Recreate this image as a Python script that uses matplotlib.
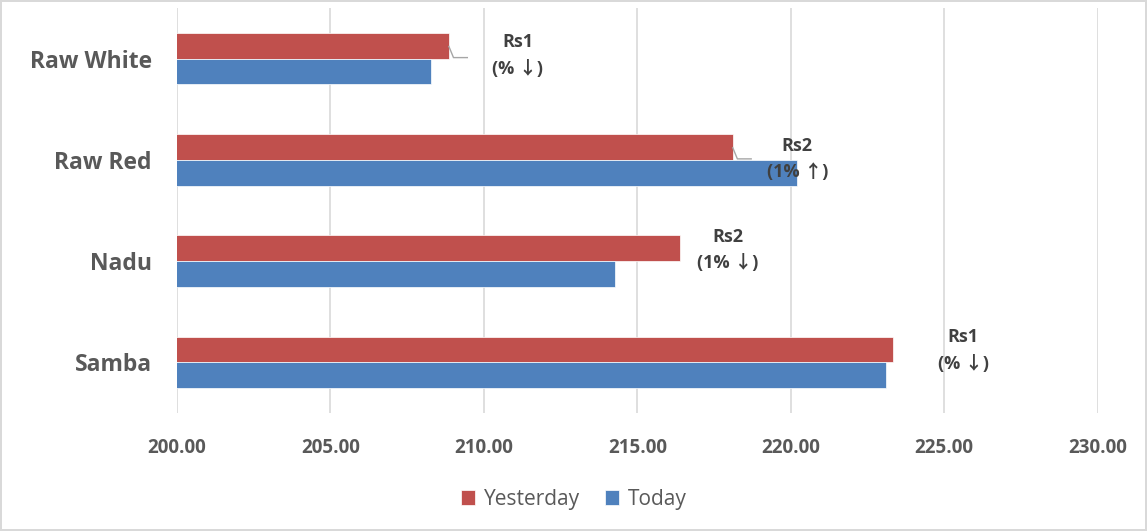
import matplotlib.pyplot as plt
import numpy as np

plt.rcParams['font.family'] = ['Open Sans', 'DejaVu Sans']

categories = ['Samba', 'Nadu', 'Raw Red', 'Raw White']
yesterday = [223.32, 216.38, 218.11, 208.86]
today = [223.09, 214.27, 220.20, 208.27]
labels = ['Rs1\n(% \u2193)', 'Rs2\n(1% \u2193)', 'Rs2\n(1% \u2191)', 'Rs1\n(% \u2193)']
xticks = [200, 205, 210, 215, 220, 225, 230]

# label placement (offsets from end of yesterday bar) and whether a leader line is drawn
lab_dx = [2.3, 1.57, 2.1, 2.25]
lab_dy = [0.12, 0.11, 0.01, 0.03]
leader = [False, False, True, True]

red = '#C0504D'
blue = '#4F81BD'

fig = plt.figure(figsize=(11.47, 5.31), dpi=100)
fig.patch.set_edgecolor('#D9D9D9')
fig.patch.set_linewidth(1.5)
ax = fig.add_axes([0.1543, 0.222, 0.8027, 0.763])

y = np.arange(len(categories))
h = 0.255
ax.barh(y + h / 2, yesterday, height=h, color=red, label='Yesterday', zorder=3,
        edgecolor='white', linewidth=0.5)
ax.barh(y - h / 2, today, height=h, color=blue, label='Today', zorder=3,
        edgecolor='white', linewidth=0.5)

for i in range(len(categories)):
    v = yesterday[i]
    ax.text(v + lab_dx[i], y[i] + lab_dy[i], labels[i], ha='center', va='center',
            fontsize=13, fontweight='bold', color='#404040', linespacing=1.6, zorder=5,
            family=['Open Sans', 'Noto Sans CJK SC', 'DejaVu Sans'])
    if leader[i]:
        ax.plot([v, v + 0.15, v + 0.6], [y[i] + 0.12, y[i] + 0.01, y[i] + 0.01],
                color='#A6A6A6', lw=1, zorder=4)

ax.set_xlim(200, 230)
ax.set_ylim(-0.5, 3.5)
ax.set_xticks(xticks)
ax.set_xticklabels(['%.2f' % t for t in xticks])
ax.set_yticks(y)
ax.set_yticklabels(categories)
ax.tick_params(length=0)
ax.tick_params(axis='x', labelsize=13.5, colors='#595959', pad=18)
ax.tick_params(axis='y', labelsize=16.5, colors='#595959', pad=18)
for t in ax.get_xticklabels() + ax.get_yticklabels():
    t.set_fontweight('bold')
ax.grid(axis='x', color='#D9D9D9', lw=1.2, zorder=0)
for s in ax.spines.values():
    s.set_visible(False)

fig.legend(loc='lower center', bbox_to_anchor=(0.5, 0.005), ncol=2, frameon=False,
           fontsize=15, handlelength=0.7, handleheight=0.7, handletextpad=0.4,
           columnspacing=1.2, labelcolor='#595959')

fig.savefig('out.png', dpi=100)
